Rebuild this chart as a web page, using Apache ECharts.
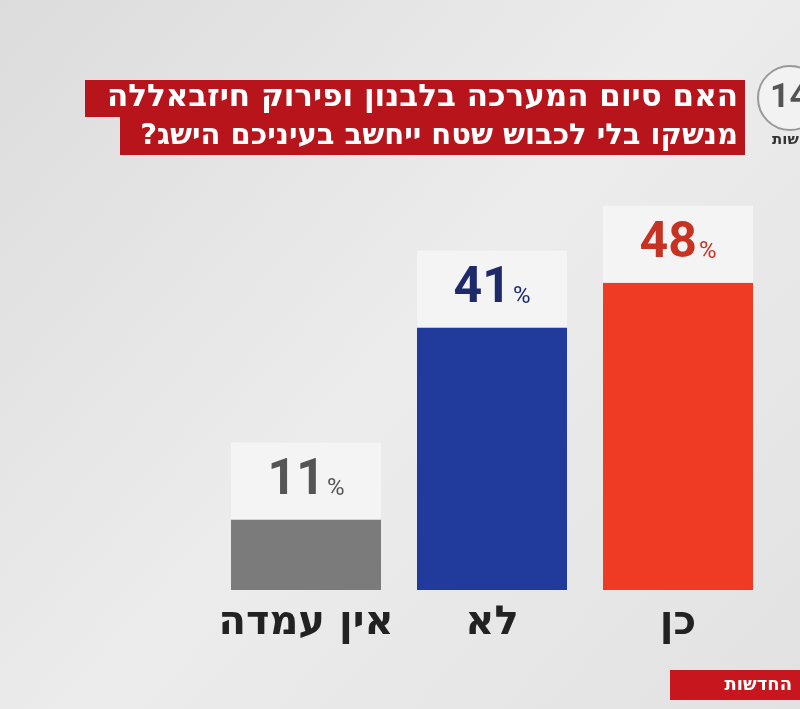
<!DOCTYPE html>
<html><head><meta charset="utf-8">
<script src="https://cdn.jsdelivr.net/npm/echarts@6/dist/echarts.min.js"></script>
<style>html,body{margin:0;padding:0}#c{width:800px;height:709px}</style>
</head><body><div id="c"></div>
<script>
var categories = ['אין עמדה', 'לא', 'כן'];
var values = [11, 41, 48];
var barColors = ['#7b7b7b', '#213b9c', '#ef3b24'];
var numColors = ['#555555', '#1f2a6a', '#c63322'];
var titleLines = ['האם סיום המערכה בלבנון ופירוק חיזבאללה', 'מנשקו בלי לכבוש שטח ייחשב בעיניכם הישג?\u200F'];

var myChart = echarts.init(document.getElementById('c'));
var option = {
    backgroundColor: {
        type: 'linear', x: 0, y: 0, x2: 1, y2: 1,
        colorStops: [{offset: 0, color: '#dcdcdc'}, {offset: 0.5, color: '#ececec'}, {offset: 1, color: '#e2e2e2'}]
    },
    grid: {left: 213, width: 558, top: 206, bottom: 119},
    xAxis: {
        type: 'category', data: categories,
        axisLine: {show: false}, axisTick: {show: false},
        axisLabel: {interval: 0, fontSize: 40, fontWeight: 'bold', color: '#222', margin: 14, fontFamily: 'DejaVu Sans'}
    },
    yAxis: {type: 'value', min: 0, max: 60, show: false},
    series: [{
        type: 'bar', barWidth: 150,
        data: values.map(function (v, i) {
            return {
                value: v,
                itemStyle: {color: barColors[i]},
                label: {
                    rich: {
                        n: {fontSize: 50, fontWeight: 'bold', color: numColors[i], fontFamily: 'Roboto', lineHeight: 54},
                        p: {fontSize: 24, color: numColors[i], fontFamily: 'Roboto', padding: [14, 0, 0, 2]}
                    }
                }
            };
        }),
        label: {
            show: true, position: 'top', distance: 0,
            backgroundColor: '#f4f4f4', width: 150, align: 'center', padding: [12, 0, 11, 0],
            formatter: function (p) { return '{n|' + p.value + '}{p|%}'; }
        }
    }],
    graphic: [
        {type: 'rect', shape: {x: 85, y: 80, width: 660, height: 37}, style: {fill: '#b8141c'}},
        {type: 'rect', shape: {x: 120, y: 117, width: 625, height: 38}, style: {fill: '#b8141c'}},
        {type: 'text', x: 738, y: 98, style: {text: titleLines[0], fill: '#fff', font: 'bold 31px "DejaVu Sans"', align: 'right', verticalAlign: 'middle'}},
        {type: 'text', x: 738, y: 136, style: {text: titleLines[1], fill: '#fff', font: 'bold 29px "DejaVu Sans"', align: 'right', verticalAlign: 'middle'}},
        {type: 'circle', shape: {cx: 790, cy: 98, r: 32}, style: {fill: '#f2f2f2', stroke: '#999', lineWidth: 2}},
        {type: 'text', x: 770, y: 98, style: {text: '14', fill: '#555', font: 'bold 34px Roboto', verticalAlign: 'middle'}},
        {type: 'text', x: 772, y: 140, style: {text: 'שות', fill: '#333', font: 'bold 15px "DejaVu Sans"', verticalAlign: 'middle'}},
        {type: 'rect', shape: {x: 670, y: 670, width: 130, height: 30}, style: {fill: '#c8161e'}},
        {type: 'text', x: 792, y: 685, style: {text: 'החדשות', fill: '#fff', font: 'bold 18px "DejaVu Sans"', align: 'right', verticalAlign: 'middle'}}
    ]
};
myChart.setOption(option);
</script></body></html>
